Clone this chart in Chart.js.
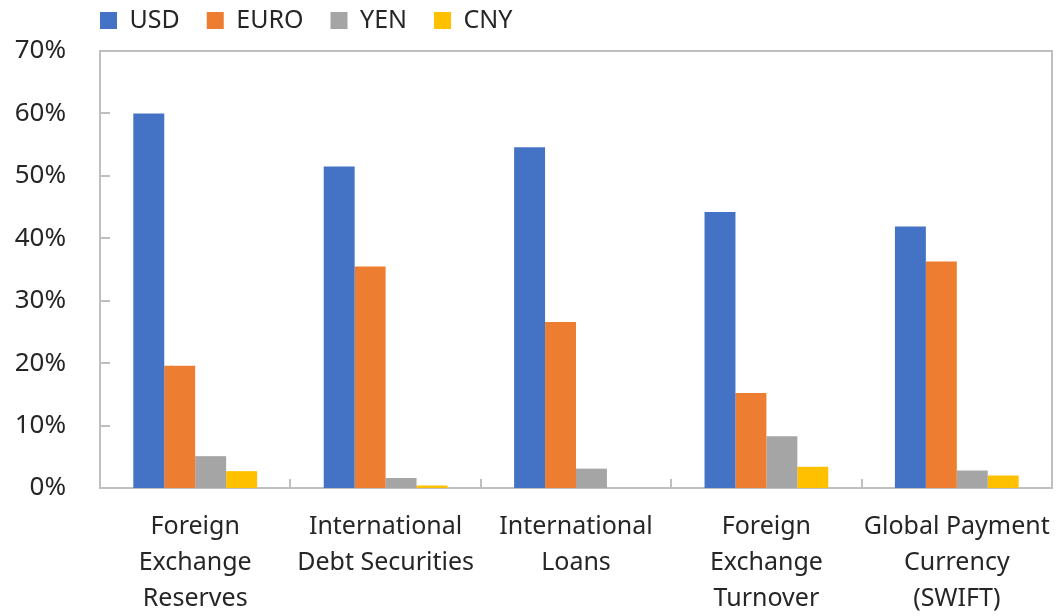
<!DOCTYPE html>
<html>
<head>
<meta charset="utf-8">
<script src="https://cdn.jsdelivr.net/npm/chart.js@4.4.1/dist/chart.umd.min.js"></script>
<style>
  body { margin: 0; background: #fff; }
  #wrap { width: 1057px; height: 616px; }
</style>
</head>
<body>
<div id="wrap"><canvas id="share-chart"></canvas></div>
<script>
var categories = [
  ['Foreign', 'Exchange', 'Reserves'],
  ['International', 'Debt Securities'],
  ['International', 'Loans'],
  ['Foreign', 'Exchange', 'Turnover'],
  ['Global Payment', 'Currency', '(SWIFT)']
];
var usd  = [60.0, 51.5, 54.6, 44.2, 41.9];
var euro = [19.6, 35.5, 26.6, 15.2, 36.3];
var yen  = [5.1, 1.6, 3.1, 8.3, 2.8];
var cny  = [2.7, 0.4, 0, 3.4, 2.0];
var yTicks = [0, 10, 20, 30, 40, 50, 60, 70];

var axisGray = '#bfbfbf';
var textColor = '#262626';

// legend sits over the plot, not at the canvas edge
var legendShift = {
  id: 'legendShift',
  beforeDraw: function(chart) {
    chart.legend.left = 73;
    chart.legend.top = -19;
  }
};

// frame on top/right plus the little inward tick marks
var frameTicks = {
  id: 'frameTicks',
  afterDatasetsDraw: function(chart) {
    var ctx = chart.ctx, a = chart.chartArea;
    var x = chart.scales.x, y = chart.scales.y;
    ctx.save();
    ctx.strokeStyle = axisGray;
    ctx.lineWidth = 2;
    ctx.beginPath();
    ctx.moveTo(a.left, a.top);
    ctx.lineTo(a.right, a.top);
    ctx.lineTo(a.right, a.bottom);
    for (var i = 1; i < yTicks.length - 1; i++) {
      var py = Math.round(y.getPixelForValue(yTicks[i]));
      ctx.moveTo(a.left, py);
      ctx.lineTo(a.left + 10, py);
    }
    for (var j = 0; j < categories.length - 1; j++) {
      var px = Math.round((x.getPixelForTick(j) + x.getPixelForTick(j + 1)) / 2);
      ctx.moveTo(px, a.bottom);
      ctx.lineTo(px, a.bottom - 9);
    }
    ctx.stroke();
    ctx.restore();
  }
};

var chart = new Chart(document.getElementById('share-chart'), {
  type: 'bar',
  data: {
    labels: categories,
    datasets: [
      { label: 'USD',  data: usd,  backgroundColor: '#4472C4' },
      { label: 'EURO', data: euro, backgroundColor: '#ED7D31' },
      { label: 'YEN',  data: yen,  backgroundColor: '#A5A5A5' },
      { label: 'CNY',  data: cny,  backgroundColor: '#FFC000' }
    ]
  },
  options: {
    responsive: true,
    maintainAspectRatio: false,
    animation: false,
    datasets: { bar: { categoryPercentage: 0.65, barPercentage: 1.0 } },
    layout: { padding: { left: 5, right: 5, top: -11, bottom: -1 } },
    plugins: {
      tooltip: { enabled: false },
      legend: {
        position: 'top',
        align: 'start',
        labels: {
          boxWidth: 17,
          boxHeight: 17,
          padding: 27,
          color: textColor,
          font: { family: '"Noto Sans", sans-serif', size: 25 }
        }
      }
    },
    scales: {
      x: {
        grid: { display: false, drawTicks: true, tickLength: 21 },
        border: { display: true, color: axisGray, width: 2 },
        ticks: {
          color: textColor,
          padding: 0,
          maxRotation: 0,
          autoSkip: false,
          font: { family: '"Noto Sans", sans-serif', size: 25, lineHeight: 1.44 }
        }
      },
      y: {
        min: 0,
        max: 70,
        afterFit: function(scale) { scale.width = 95; },
        grid: { display: false, drawTicks: false },
        border: { display: true, color: axisGray, width: 2 },
        ticks: {
          stepSize: 10,
          color: textColor,
          padding: 34,
          font: { family: '"Noto Sans", sans-serif', size: 26 },
          callback: function(v) { return v + '%'; }
        }
      }
    }
  },
  plugins: [legendShift, frameTicks]
});
</script>
</body>
</html>
